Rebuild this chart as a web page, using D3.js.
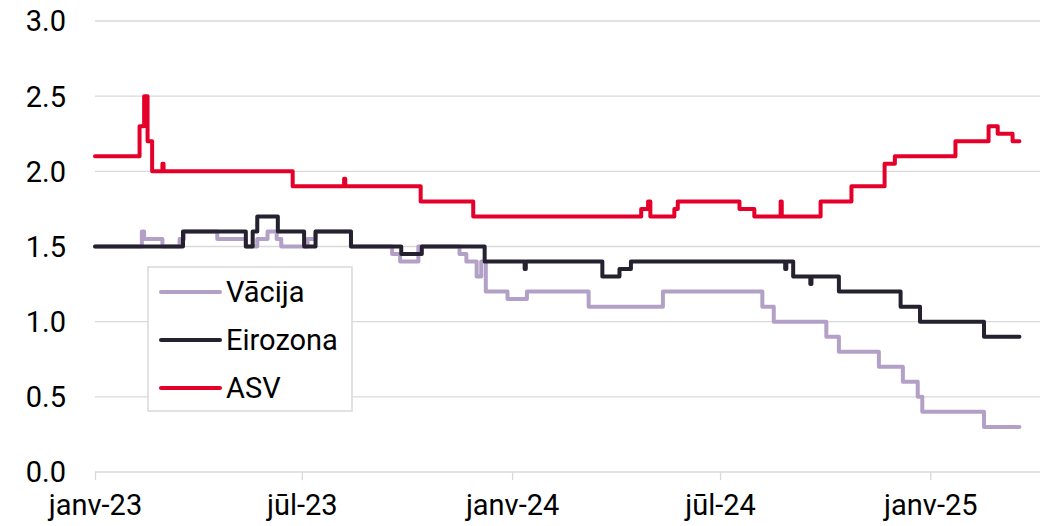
<!DOCTYPE html>
<html>
<head>
<meta charset="utf-8">
<script src="https://cdn.jsdelivr.net/npm/d3@7"></script>
<style>
  html, body { margin: 0; padding: 0; background: #fff; }
  svg { display: block; font-family: Roboto, "Noto Sans", sans-serif; }
</style>
</head>
<body>
<svg width="1049" height="526"></svg>
<script>
// step change points [date, value]; each value holds until the next date
const vacija = [
  ['2023-01-01', 1.5], ['2023-02-11', 1.6], ['2023-02-13', 1.55], ['2023-03-01', 1.5],
  ['2023-03-16', 1.55], ['2023-03-20', 1.6], ['2023-04-18', 1.55], ['2023-05-13', 1.5],
  ['2023-05-23', 1.55], ['2023-06-01', 1.6], ['2023-06-09', 1.55], ['2023-06-13', 1.5],
  ['2023-07-06', 1.55], ['2023-07-13', 1.6], ['2023-08-13', 1.5], ['2023-09-18', 1.45],
  ['2023-09-25', 1.4], ['2023-10-11', 1.5], ['2023-11-16', 1.45], ['2023-11-22', 1.4],
  ['2023-12-01', 1.3], ['2023-12-05', 1.4], ['2023-12-09', 1.2], ['2023-12-28', 1.15],
  ['2024-01-14', 1.2], ['2024-03-08', 1.1], ['2024-05-12', 1.2], ['2024-08-07', 1.1],
  ['2024-08-17', 1.0], ['2024-10-02', 0.9], ['2024-10-13', 0.8], ['2024-11-17', 0.7],
  ['2024-12-08', 0.6], ['2024-12-21', 0.5], ['2024-12-25', 0.4], ['2025-02-17', 0.3],
  ['2025-03-20', 0.3]
];

const eirozona = [
  ['2023-01-01', 1.5], ['2023-03-19', 1.6], ['2023-05-13', 1.5], ['2023-05-19', 1.6],
  ['2023-05-23', 1.7], ['2023-06-10', 1.6], ['2023-07-03', 1.5], ['2023-07-13', 1.6],
  ['2023-08-13', 1.5], ['2023-09-26', 1.45], ['2023-10-14', 1.5], ['2023-12-08', 1.4],
  ['2024-01-12', 1.35], ['2024-01-13', 1.4], ['2024-03-20', 1.3], ['2024-04-04', 1.35],
  ['2024-04-14', 1.4], ['2024-08-27', 1.35], ['2024-08-28', 1.4], ['2024-09-03', 1.3],
  ['2024-09-18', 1.25], ['2024-09-19', 1.3], ['2024-10-13', 1.2], ['2024-12-06', 1.1],
  ['2024-12-23', 1.0], ['2025-02-17', 0.9], ['2025-03-20', 0.9]
];

const asv = [
  ['2023-01-01', 2.1], ['2023-02-09', 2.3], ['2023-02-13', 2.5], ['2023-02-16', 2.2],
  ['2023-02-20', 2.0], ['2023-03-01', 2.05], ['2023-03-02', 2.0], ['2023-06-23', 1.9],
  ['2023-08-07', 1.95], ['2023-08-08', 1.9], ['2023-10-13', 1.8], ['2023-11-28', 1.7],
  ['2024-04-23', 1.75], ['2024-04-29', 1.8], ['2024-05-01', 1.7], ['2024-05-22', 1.75],
  ['2024-05-25', 1.8], ['2024-07-18', 1.75], ['2024-07-31', 1.7], ['2024-08-23', 1.8],
  ['2024-08-24', 1.7], ['2024-09-27', 1.8], ['2024-10-24', 1.9], ['2024-11-22', 2.05],
  ['2024-12-01', 2.1], ['2025-01-23', 2.2], ['2025-02-21', 2.3], ['2025-03-01', 2.25],
  ['2025-03-14', 2.2], ['2025-03-20', 2.2]
];

const seriesNames = ['Vācija', 'Eirozona', 'ASV'];
const seriesColors = ['#b3a0c7', '#25212f', '#e4002b'];
const seriesData = [vacija, eirozona, asv];

const tickDates = ['2023-01-01', '2023-07-01', '2024-01-01', '2024-07-01', '2025-01-01'];
const tickLabels = ['janv-23', 'jūl-23', 'janv-24', 'jūl-24', 'janv-25'];
const yTicks = [0, 0.5, 1, 1.5, 2, 2.5, 3];

const parse = d3.utcParse('%Y-%m-%d');
const svg = d3.select('svg');
const fontSize = 29;

const xScale = d3.scaleUtc()
  .domain([parse('2023-01-01'), parse('2025-04-07')])
  .range([95, 1040]);
const yScale = d3.scaleLinear().domain([0, 3]).range([472, 21]);

// gridlines
svg.append('g')
  .selectAll('line')
  .data(yTicks.filter(d => d > 0))
  .join('line')
  .attr('x1', 95).attr('x2', 1040)
  .attr('y1', d => yScale(d)).attr('y2', d => yScale(d))
  .attr('stroke', '#d9d9d9').attr('stroke-width', 1.3);

// y labels
svg.append('g')
  .selectAll('text')
  .data(yTicks)
  .join('text')
  .attr('x', 66)
  .attr('y', d => yScale(d))
  .attr('dy', '0.36em')
  .attr('text-anchor', 'end')
  .attr('font-size', fontSize)
  .attr('fill', '#000')
  .text(d => d.toFixed(1));

// x axis
const xAxis = d3.axisBottom(xScale)
  .tickValues(tickDates.map(parse))
  .tickSize(8)
  .tickFormat((d, i) => tickLabels[i]);
const gx = svg.append('g')
  .attr('transform', `translate(0,${yScale(0)})`)
  .call(xAxis);
gx.select('.domain').attr('stroke', '#d9d9d9').attr('stroke-width', 1.3)
  .attr('d', `M95,0H1040`);
gx.selectAll('.tick line').attr('stroke', '#d9d9d9').attr('stroke-width', 1.3);
gx.selectAll('.tick text')
  .attr('font-family', 'Roboto, "Noto Sans", sans-serif')
  .attr('font-size', fontSize)
  .attr('fill', '#000')
  .attr('y', 22)
  .attr('dy', '0.71em');

// lines
const line = d3.line()
  .x(d => xScale(parse(d[0])))
  .y(d => yScale(d[1]))
  .curve(d3.curveStepAfter);

svg.append('g')
  .selectAll('path')
  .data(seriesData)
  .join('path')
  .attr('d', d => line(d))
  .attr('fill', 'none')
  .attr('stroke', (d, i) => seriesColors[i])
  .attr('stroke-width', 4)
  .attr('stroke-linejoin', 'round')
  .attr('stroke-linecap', 'round');

// legend
const legend = svg.append('g');
legend.append('rect')
  .attr('x', 148).attr('y', 267)
  .attr('width', 204).attr('height', 144)
  .attr('fill', '#fff')
  .attr('stroke', '#d9d9d9').attr('stroke-width', 1.5);

const items = legend.selectAll('g.item')
  .data(seriesNames)
  .join('g')
  .attr('class', 'item')
  .attr('transform', (d, i) => `translate(0,${292 + i * 48})`);
items.append('line')
  .attr('x1', 161).attr('x2', 220)
  .attr('stroke', (d, i) => seriesColors[i])
  .attr('stroke-width', 4)
  .attr('stroke-linecap', 'round');
items.append('text')
  .attr('x', 226)
  .attr('dy', '0.36em')
  .attr('font-size', fontSize)
  .attr('fill', '#000')
  .text(d => d);
</script>
</body>
</html>
